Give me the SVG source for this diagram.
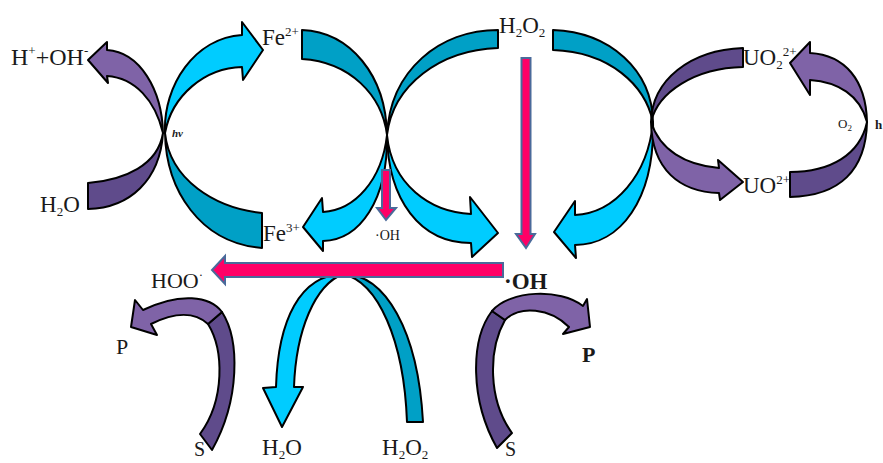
<svg xmlns="http://www.w3.org/2000/svg" width="883" height="463" viewBox="0 0 883 463">
<style>
.rb{stroke:#000;stroke-width:2;stroke-linejoin:round}
.cy{fill:#00CCFF}
.tl{fill:#00A0C6}
.pl{fill:#7F63A7}
.pd{fill:#5F4B8B}
.pk{fill:#FF0066;stroke:#4A6A9A;stroke-width:2;stroke-linejoin:miter}
text{font-family:"Liberation Serif","Times New Roman",serif;fill:#1a1a1a;font-size:23px}
.s{font-size:13px}
.b{font-weight:bold}
</style>
<rect width="883" height="463" fill="#fff"/>
<g id="connectors">
  <g id="c1-purple">
    <path class="rb pd" d="M88,209 C130,208 160,180 163,133 C158,165 125,180 88,183 Z"/>
    <path class="rb pl" d="M163,133 C162,90 140,52 107,50 L107,42 L88,60 L108,83 L107,76 C135,78 155,100 163,133 Z"/>
  </g>
  <g id="c1-cyan">
    <path class="rb tl" d="M165,133 C166,190 200,243 262,248 L262,213 C215,208 170,180 165,133 Z"/>
    <path class="rb cy" d="M165,133 C163,85 195,38 242,35 L242,22 L263,50 L243,80 L242,67 C205,68 172,95 165,133 Z"/>
  </g>
  <g id="c2-left">
    <path class="rb tl" d="M302,30 C350,32 386,75 387,135 C382,95 350,62 302,59 Z"/>
    <path class="rb cy" d="M387,135 C388,200 360,240 323,241 L323,251 L303,227 L322,198 L323,212 C355,210 382,180 387,135 Z"/>
  </g>
  <g id="c2-right">
    <path class="rb tl" d="M498,30 C440,30 390,70 387,135 C393,85 440,50 498,48 Z"/>
    <path class="rb cy" d="M387,135 C388,200 420,243 471,243 L472,257 L498,233 L470,197 L471,214 C430,212 392,185 387,135 Z"/>
  </g>
  <g id="c3-teal">
    <path class="rb tl" d="M553,30 C610,32 652,70 653,122 C645,85 610,52 553,50 Z"/>
    <path class="rb cy" d="M653,122 C655,200 620,245 575,245 L576,258 L554,232 L575,201 L575,215 C615,213 648,175 653,122 Z"/>
  </g>
  <g id="c3-purple">
    <path class="rb pd" d="M743,48 C690,50 652,80 651,122 C658,92 695,68 743,67 Z"/>
    <path class="rb pl" d="M651,122 C652,170 680,192 719,193 L720,200 L743,182 L718,160 L719,168 C685,165 660,150 651,122 Z"/>
  </g>
  <g id="c3-right">
    <path class="rb pd" d="M790,197 C840,196 866,170 867,122 C860,155 830,172 790,172 Z"/>
    <path class="rb pl" d="M867,122 C866,80 845,55 810,53 L810,42 L790,63 L810,95 L810,80 C838,82 860,95 867,122 Z"/>
  </g>
  <g id="arch">
    <path class="rb tl" d="M343,274 C385,274 418,330 423,422 L407,422 C404,340 378,282 343,274 Z"/>
    <path class="rb cy" d="M343,274 C300,275 278,320 276,387 L263,388 L282,427 L303,387 L294,387 C296,330 315,285 343,274 Z"/>
  </g>
  <g id="sp-left">
    <path class="rb pd" d="M212,450 C240,400 240,340 222,312 L208,324 C224,350 225,400 200,434 Z"/>
    <path class="rb pl" d="M222,312 C210,296 180,292 143,310 L135,300 L131,327 L157,335 L151,324 C175,312 195,312 208,324 Z"/>
  </g>
  <g id="sp-right">
    <path class="rb pd" d="M497,448 C470,400 470,340 492,311 L505,320 C488,350 488,400 512,433 Z"/>
    <path class="rb pl" d="M492,311 C510,290 560,288 583,306 L587,299 L590,327 L563,334 L569,327 C550,308 520,305 505,320 Z"/>
  </g>
  <path id="pink-h" class="pk" d="M503,263 L225,263 L225,256 L212,270 L225,284 L225,277 L503,277 Z"/>
  <path id="pink-v" class="pk" d="M521.5,58 L530.5,58 L530.5,234 L535,234 L526,248 L516,234 L521.5,234 Z"/>
  <path id="pink-s" class="pk" d="M382,170 L390,170 L390,208 L396,208 L386,220 L377,208 L382,208 Z"/>
</g>
<g id="n-hoh"><text x="11" y="65" style="font-size:24px">H<tspan class="s" dy="-10">+</tspan><tspan dy="10">+OH</tspan><tspan class="s" dy="-10">-</tspan></text></g>
<g id="n-fe2"><text x="262" y="45">Fe<tspan class="s" dy="-9">2+</tspan></text></g>
<g id="n-h2o2-top"><text x="499" y="33">H<tspan class="s" dy="4">2</tspan><tspan dy="-4">O</tspan><tspan class="s" dy="4">2</tspan></text></g>
<g id="n-uo2-2"><text x="743" y="65">UO<tspan class="s" dy="4">2</tspan><tspan class="s" dy="-13">2+</tspan></text></g>
<g id="n-uo2-1"><text x="743" y="193">UO<tspan class="s" dy="-9">2+</tspan></text></g>
<g id="n-o2h"><text x="838" y="128" style="font-size:13px">O<tspan dy="3" style="font-size:9px">2</tspan></text><text x="875" y="129" class="b" style="font-size:13px">h</text></g>
<g id="n-hv"><text x="172" y="137" class="b" style="font-size:11px;font-style:italic">hν</text></g>
<g id="n-h2o-left"><text x="40" y="212">H<tspan class="s" dy="4">2</tspan><tspan dy="-4">O</tspan></text></g>
<g id="n-fe3"><text x="263" y="241">Fe<tspan class="s" dy="-9">3+</tspan></text></g>
<g id="n-oh-small"><text x="375" y="240" style="font-size:14px">·OH</text></g>
<g id="n-oh"><text x="504" y="289" class="b">·OH</text></g>
<g id="n-hoo"><text x="151" y="288" style="font-size:22px">HOO<tspan class="s" dy="-9">·</tspan></text></g>
<g id="n-p-left"><text x="116" y="354" style="font-size:22px">P</text></g>
<g id="n-s-left"><text x="194" y="456" style="font-size:20px">S</text></g>
<g id="n-h2o-bottom"><text x="262" y="455">H<tspan class="s" dy="4">2</tspan><tspan dy="-4">O</tspan></text></g>
<g id="n-h2o2-bottom"><text x="382" y="455">H<tspan class="s" dy="4">2</tspan><tspan dy="-4">O</tspan><tspan class="s" dy="4">2</tspan></text></g>
<g id="n-s-right"><text x="505" y="456" style="font-size:20px">S</text></g>
<g id="n-p-right"><text x="582" y="362" class="b" style="font-size:22px">P</text></g>
</svg>
